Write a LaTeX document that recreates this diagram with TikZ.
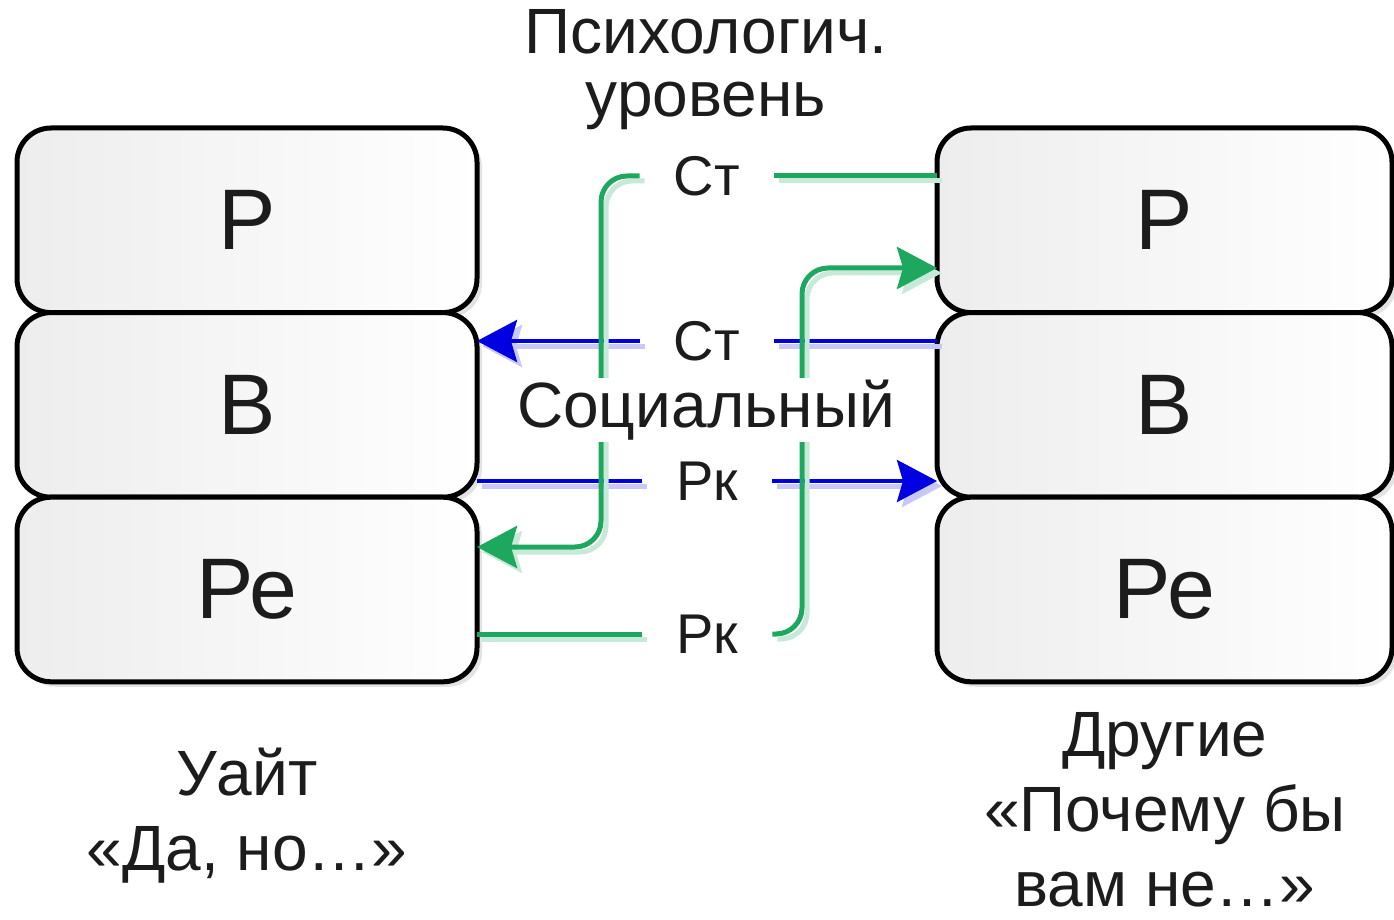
\documentclass[tikz,border=0pt]{standalone}
\usepackage{fontspec}
\setmainfont{Liberation Sans}
\usetikzlibrary{positioning,arrows.meta,shadows}
\definecolor{tagreen}{RGB}{30,168,95}
\definecolor{tablue}{RGB}{0,0,225}
\definecolor{tatext}{RGB}{28,28,28}
\tikzset{
	egostate/.style={draw=black,line width=2.5pt,rounded corners=17pt,minimum width=230pt,minimum height=92.3pt,outer sep=0pt,left color=black!7,right color=white,drop shadow={shadow xshift=2.5pt,shadow yshift=-2.5pt,opacity=0.22},font=\fontsize{43}{48}\selectfont,text=tatext},
	translabel/.style={inner xsep=17pt,inner ysep=2pt,font=\fontsize{28}{30}\selectfont,text=tatext},
	levellabel/.style={align=center,font=\fontsize{32}{31.5}\selectfont,text=tatext},
	caption/.style={align=center,inner sep=0pt,font=\fontsize{32}{37.5}\selectfont,text=tatext},
	socline/.style={draw=tablue,line width=2pt,preaction={draw=tablue!22,line width=2.5pt,transform canvas={shift={(2.5pt,-2.5pt)}}}},
	psyline/.style={draw=tagreen,line width=2.5pt,rounded corners=13pt,preaction={draw=tagreen!25,line width=2.5pt,transform canvas={shift={(2.5pt,-2.5pt)}}}},
	tatip/.style={-{Stealth[length=20pt,width=21pt,inset=3pt]}}
}
\begin{document}
\begin{tikzpicture}[x=0.5pt,y=-0.5pt]
	\useasboundingbox (0,0) rectangle (1394,920);
	% Уайт
	\node[egostate] (lP) at (247,220.3) {Р};
	\node[egostate,below=0pt of lP] (lB) {В};
	\node[egostate,below=0pt of lB] (lRe) {Ре};
	% Другие
	\node[egostate,minimum width=227.5pt] (rP) at (1164.5,220.3) {Р};
	\node[egostate,minimum width=227.5pt,below=0pt of rP] (rB) {В};
	\node[egostate,minimum width=227.5pt,below=0pt of rB] (rRe) {Ре};
	% Beschriftungen
	\node[levellabel] (psy) at (706,70) {Психологич.\\уровень};
	\node[translabel] (stPsy) at (707,176) {Ст};
	\node[translabel] (stSoc) at (707,341) {Ст};
	\node[translabel] (rkSoc) at (707,481) {Рк};
	\node[translabel] (rkPsy) at (707,634) {Рк};
	\coordinate (psyL) at (601,547);
	\coordinate (psyR) at (802,268);
	% sozialer Pegel
	\draw[socline] (rB.west |- stSoc) -- (stSoc.east);
	\draw[socline,tatip] (stSoc.west) -- (lB.east |- stSoc);
	\draw[socline] (lB.east |- rkSoc) -- (rkSoc.west);
	\draw[socline,tatip] (rkSoc.east) -- (rB.west |- rkSoc);
	% psychologischer Pegel
	\draw[psyline] (rP.west |- stPsy) -- (stPsy.east);
	\draw[psyline,tatip] (stPsy.west) -| (psyL) -- (lRe.east |- psyL);
	\draw[psyline] (lRe.east |- rkPsy) -- (rkPsy.west);
	\draw[psyline,tatip] (rkPsy.east) -| (psyR) -- (rP.west |- psyR);
	\node[levellabel,fill=white,inner sep=1pt,font=\fontsize{32}{34}\selectfont] (soc) at (706,410) {Социальный};
	% Unterschriften
	\node[caption] (white) at (247,816) {Уайт\\«Да, но…»};
	\node[caption] (others) at (1165,810) {Другие\\«Почему бы\\вам не…»};
\end{tikzpicture}
\end{document}
